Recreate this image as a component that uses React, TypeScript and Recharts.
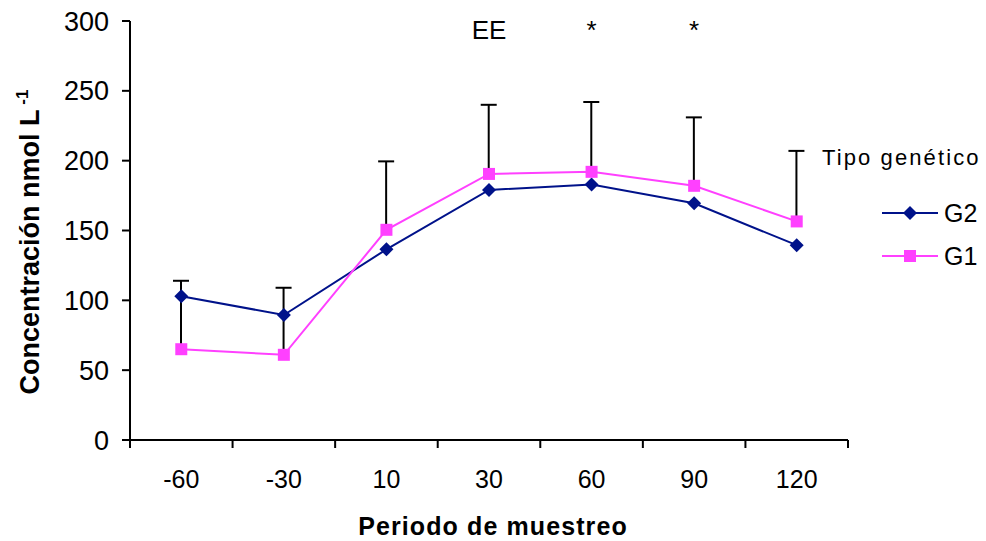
import {
  ComposedChart,
  Line,
  Bar,
  XAxis,
  YAxis,
  ReferenceDot,
} from "recharts";

// ================================================================
// Concentración por periodo de muestreo, G1 vs G2, con EE
// ================================================================

const periods = ["-60", "-30", "10", "30", "60", "90", "120"];
const g2Values = [103, 89.5, 136.5, 179, 183, 169.5, 139.5];
const g1Values = [65, 61, 150.5, 190.5, 192, 182, 156.5];
// top of the standard-error bar (drawn up from the G1 point)
const eeTops = [114, 109, 199.5, 240, 242, 231, 207];
const yTicks = [0, 50, 100, 150, 200, 250, 300];
const marks = [
  { period: "30", text: "EE" },
  { period: "60", text: "*" },
  { period: "90", text: "*" },
];

const NAVY = "#00128A";
const PINK = "#FF40FF";
const FONT = "'Liberation Sans', Arial, sans-serif";

const data = periods.map((p, i) => ({
  period: p,
  g2: g2Values[i],
  g1: g1Values[i],
  ee: [g1Values[i], eeTops[i]],
}));

const Diamond = (props: any) => {
  const { cx, cy } = props;
  if (cx == null || cy == null) return null;
  const r = 7;
  return (
    <polygon
      points={`${cx},${cy - r} ${cx + r},${cy} ${cx},${cy + r} ${cx - r},${cy}`}
      fill={NAVY}
    />
  );
};

const Square = (props: any) => {
  const { cx, cy } = props;
  if (cx == null || cy == null) return null;
  return <rect x={cx - 6} y={cy - 6} width={12} height={12} fill={PINK} />;
};

const ErrorShape = (props: any) => {
  const { x, y, width, height } = props;
  if (x == null || y == null) return null;
  const cx = x + width / 2;
  return (
    <g stroke="#000" strokeWidth={2}>
      <line x1={cx} y1={y} x2={cx} y2={y + height} />
      <line x1={cx - 8} y1={y} x2={cx + 8} y2={y} />
    </g>
  );
};

// tick marks sit between categories, labels at the centres
const XTick = (props: any) => {
  const { x, y, payload, index, width } = props;
  const off =
    payload && payload.offset > 0
      ? payload.offset
      : (width || 718) / (2 * periods.length);
  const last = index === periods.length - 1;
  return (
    <g>
      <line x1={x - off} y1={y} x2={x - off} y2={y + 8} stroke="#000" strokeWidth={2} />
      {last && (
        <line x1={x + off} y1={y} x2={x + off} y2={y + 8} stroke="#000" strokeWidth={2} />
      )}
      <text
        x={x}
        y={y + 48}
        textAnchor="middle"
        fontFamily={FONT}
        fontSize={25}
        fill="#000"
      >
        {payload.value}
      </text>
    </g>
  );
};

const YTitle = () => (
  <text
    transform="translate(39, 242) rotate(-90)"
    textAnchor="middle"
    fontFamily={FONT}
    fontWeight="bold"
    fontSize={27}
    fill="#000"
  >
    Concentración nmol L
    <tspan dy={-11} fontSize={17}>
      {" "}-1
    </tspan>
  </text>
);

const XTitle = () => (
  <text
    x={493}
    y={535}
    textAnchor="middle"
    fontFamily={FONT}
    fontWeight="bold"
    fontSize={25}
    letterSpacing={1.1}
    fill="#000"
  >
    Periodo de muestreo
  </text>
);

const legendItems = [
  { name: "G2", color: NAVY, marker: "diamond" },
  { name: "G1", color: PINK, marker: "square" },
];

const LegendBox = () => (
  <div
    style={{
      position: "absolute",
      left: 822,
      top: 145,
      fontFamily: FONT,
      color: "#000",
    }}
  >
    <div style={{ fontSize: 22, letterSpacing: 2.1, height: 28, whiteSpace: "nowrap" }}>
      Tipo genético
    </div>
    {legendItems.map((s, i) => (
      <div
        key={s.name}
        style={{
          position: "absolute",
          left: 58,
          top: 53 + i * 43,
          display: "flex",
          alignItems: "center",
          height: 30,
        }}
      >
        <svg width={64} height={20} style={{ display: "block" }}>
          <line x1={2} y1={10} x2={58} y2={10} stroke={s.color} strokeWidth={2} />
          {s.marker === "diamond" ? (
            <polygon points="30,3 37,10 30,17 23,10" fill={s.color} />
          ) : (
            <rect x={24} y={4} width={12} height={12} fill={s.color} />
          )}
        </svg>
        <span style={{ fontSize: 25 }}>{s.name}</span>
      </div>
    ))}
  </div>
);

export default function App() {
  return (
    <div
      style={{
        position: "absolute",
        left: 0,
        top: 0,
        width: 986,
        height: 541,
        background: "#fff",
      }}
    >
      <ComposedChart
        width={986}
        height={541}
        data={data}
        margin={{ top: 21, right: 138, left: 0, bottom: 0 }}
        barCategoryGap="40%"
      >
        <XAxis
          dataKey="period"
          height={101}
          axisLine={{ stroke: "#000", strokeWidth: 2 }}
          tickLine={false}
          tickSize={0}
          tickMargin={0}
          tick={<XTick />}
          interval={0}
          label={<XTitle />}
        />
        <YAxis
          width={130}
          domain={[0, 300]}
          ticks={yTicks}
          interval={0}
          axisLine={{ stroke: "#000", strokeWidth: 2 }}
          tickLine={{ stroke: "#000", strokeWidth: 2 }}
          tickSize={8}
          tickMargin={13}
          tick={{ fontFamily: FONT, fontSize: 27, fill: "#000" }}
          label={<YTitle />}
        />
        <Bar
          dataKey="ee"
          barSize={4}
          shape={<ErrorShape />}
          isAnimationActive={false}
          legendType="none"
        />
        <Line
          dataKey="g2"
          name="G2"
          stroke={NAVY}
          strokeWidth={2}
          dot={<Diamond />}
          activeDot={false}
          isAnimationActive={false}
        />
        <Line
          dataKey="g1"
          name="G1"
          stroke={PINK}
          strokeWidth={2}
          dot={<Square />}
          activeDot={false}
          isAnimationActive={false}
        />
        {marks.map((m) => (
          <ReferenceDot
            key={m.period + m.text}
            x={m.period}
            y={300}
            r={0}
            fill="none"
            stroke="none"
            ifOverflow="visible"
            label={{
              value: m.text,
              position: "bottom",
              offset: 0,
              fontFamily: FONT,
              fontSize: 26,
              fill: "#000",
            }}
          />
        ))}
      </ComposedChart>
      <LegendBox />
    </div>
  );
}
